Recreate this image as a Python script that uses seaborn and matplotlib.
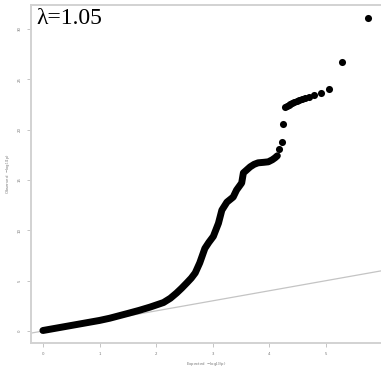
import matplotlib
matplotlib.use("Agg")
import matplotlib.pyplot as plt
import seaborn as sns
import pandas as pd

# Dense body of the QQ curve (expected, observed)
curve_expected = [0.0, 0.35, 0.71, 1.0, 1.18, 1.51, 1.70, 1.89, 2.13, 2.25, 2.36, 2.45, 2.54,
                  2.62, 2.69, 2.77, 2.86, 2.93, 3.01, 3.10, 3.16, 3.25, 3.36, 3.42, 3.51,
                  3.54, 3.60, 3.66, 3.73, 3.80, 3.90, 3.98, 4.05, 4.10, 4.14]
curve_observed = [0.05, 0.40, 0.76, 1.05, 1.27, 1.76, 2.05, 2.37, 2.83, 3.25, 3.77, 4.25, 4.77,
                  5.25, 5.77, 6.77, 8.2, 8.8, 9.4, 10.7, 12.0, 12.8, 13.3, 14.0, 14.7,
                  15.7, 16.0, 16.3, 16.55, 16.7, 16.75, 16.8, 17.0, 17.2, 17.4]

# Sparse upper tail, individual points
tail_expected = [4.17, 4.22, 4.24, 4.28, 4.31, 4.34, 4.37, 4.40, 4.44, 4.48, 4.53, 4.58,
                 4.63, 4.70, 4.79, 4.91, 5.05, 5.28, 5.74]
tail_observed = [18.1, 18.8, 20.6, 22.2, 22.35, 22.45, 22.55, 22.65, 22.75, 22.85, 22.95, 23.05,
                 23.15, 23.25, 23.4, 23.6, 24.0, 26.7, 31.1]

x_ticks = [0, 1, 2, 3, 4, 5]
y_ticks = [0, 5, 10, 15, 20, 25, 30]
lambda_label = "λ=1.05"
x_label = "Expected  \u2212log$_{10}$(p)"
y_label = "Observed  \u2212log$_{10}$(p)"

sns.set_style("white")
plt.rcParams["font.family"] = ["DejaVu Sans"]

fig = plt.figure(figsize=(3.81, 3.66), dpi=100)
ax = fig.add_axes([31 / 381, 23 / 366, 350 / 381, 338 / 366])

curve_df = pd.DataFrame({"expected": curve_expected, "observed": curve_observed})
tail_df = pd.DataFrame({"expected": tail_expected, "observed": tail_observed})

ax.axline((0, 0), slope=1, color="#c4c4c4", linewidth=0.9, zorder=1)

sns.lineplot(data=curve_df, x="expected", y="observed", ax=ax, color="black",
             linewidth=5.0, estimator=None, sort=False, zorder=3,
             solid_capstyle="round", solid_joinstyle="round")
sns.scatterplot(data=tail_df, x="expected", y="observed", ax=ax, color="black",
                s=26, linewidth=0, zorder=4)

ax.set_xlim(-0.21, 5.97)
ax.set_ylim(-1.19, 32.37)
ax.set_xticks(x_ticks)
ax.set_xticklabels([str(t) for t in x_ticks])
ax.set_yticks(y_ticks)
ax.set_yticklabels([str(t) for t in y_ticks], rotation=90, va="center")
ax.tick_params(axis="both", which="major", direction="out", length=3, width=0.6,
               color="#bbbbbb", labelsize=2.8, labelcolor="#777777", pad=3.5,
               bottom=True, left=True)

ax.set_xlabel(x_label, fontsize=2.8, color="#777777", labelpad=2.5)
ax.set_ylabel(y_label, fontsize=2.8, color="#777777", labelpad=4)

for side in ["left", "top", "bottom"]:
    ax.spines[side].set_color("#d2d2d2")
    ax.spines[side].set_linewidth(1.4)
ax.spines["right"].set_visible(False)

ax.text(0.014, 0.99, lambda_label, transform=ax.transAxes, ha="left", va="top",
        fontsize=17, family=["Liberation Serif", "DejaVu Serif"], color="black")

fig.savefig("out.png", dpi=100)
